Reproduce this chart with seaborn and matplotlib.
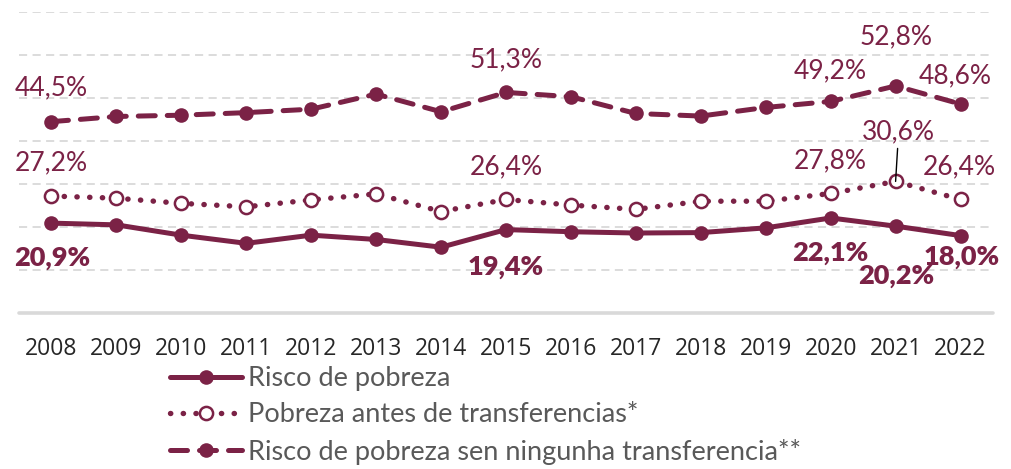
import matplotlib
matplotlib.use("Agg")
import matplotlib.pyplot as plt
import seaborn as sns
import pandas as pd
from matplotlib.lines import Line2D

# --- data -----------------------------------------------------------------
years = list(range(2008, 2023))

risco_pobreza = [20.9, 20.5, 18.1, 16.2, 18.1, 17.1, 15.3, 19.4, 18.9, 18.6,
                 18.7, 19.8, 22.1, 20.2, 18.0]
pobreza_antes = [27.2, 26.7, 25.5, 24.7, 26.3, 27.7, 23.6, 26.4, 25.1, 24.1,
                 26.0, 26.0, 27.8, 30.6, 26.4]
sen_transferencias = [44.5, 45.7, 46.0, 46.6, 47.4, 50.9, 46.8, 51.3, 50.3, 46.4,
                      45.8, 47.8, 49.2, 52.8, 48.6]

series_names = ["Risco de pobreza",
                "Pobreza antes de transferencias*",
                "Risco de pobreza sen ningunha transferencia**"]

# years whose value gets a text label, per series
labelled_risco = [2008, 2015, 2020, 2021, 2022]
labelled_antes = [2008, 2015, 2020, 2021, 2022]
labelled_sen = [2008, 2015, 2020, 2021, 2022]

# --- style ----------------------------------------------------------------
MAROON = "#7B2246"
GRID = "#d9d9d9"

sns.set_theme(style="white")
plt.rcParams["font.family"] = ["Lato", "DejaVu Sans"]

fig = plt.figure(figsize=(10.11, 4.69), dpi=100)
ax = fig.add_axes([19 / 1011, 1 - 313 / 469, 974 / 1011, 301 / 469])

df = pd.DataFrame({"ano": years,
                   "risco": risco_pobreza,
                   "antes": pobreza_antes,
                   "sen": sen_transferencias})

line_w = 3.6
DASHED = (0, (3.4, 2.4))
DOTTED = (0, (0.05, 2.3))

sns.lineplot(data=df, x="ano", y="sen", ax=ax, color=MAROON, lw=line_w,
             linestyle=DASHED, dash_capstyle="round",
             marker="o", markersize=10.5, markeredgewidth=0,
             markerfacecolor=MAROON, zorder=3)
sns.lineplot(data=df, x="ano", y="antes", ax=ax, color=MAROON, lw=3.9,
             linestyle=DOTTED, dash_capstyle="round",
             marker="o", markersize=9.5, markeredgewidth=1.8,
             markeredgecolor=MAROON, markerfacecolor="white", zorder=3)
sns.lineplot(data=df, x="ano", y="risco", ax=ax, color=MAROON, lw=line_w,
             marker="o", markersize=10.5, markeredgewidth=0,
             markerfacecolor=MAROON, zorder=3)

# axes cosmetics
ax.set_xlim(2007.5, 2022.5)
ax.set_ylim(0, 70)
ax.set_yticks(range(10, 80, 10))
ax.set_yticklabels([])
ax.tick_params(axis="y", length=0)
ax.grid(axis="y", color=GRID, lw=1.3, linestyle=(0, (4.5, 3)))
ax.grid(axis="x", visible=False)
ax.axhline(0, color=GRID, lw=2.6, zorder=1, clip_on=False)
for s in ax.spines.values():
    s.set_visible(False)
ax.set_xticks(years)
ax.set_xticklabels([str(y) for y in years], fontsize=16.5, color="#262626",
                   family=["Open Sans", "DejaVu Sans"])
ax.tick_params(axis="x", length=0, pad=17)
ax.set_xlabel("")
ax.set_ylabel("")


def fmt(v):
    return f"{v:.1f}".replace(".", ",") + "%"


# label offsets in pixels (dx, dy) relative to each point
off_sen = {2008: (0, 34), 2015: (0, 33), 2020: (0, 31), 2021: (0, 49), 2022: (-5, 28)}
off_antes = {2008: (0, 33), 2015: (0, 33), 2020: (0, 33), 2021: (3, 50), 2022: (-1, 33)}
off_risco = {2008: (1, -35), 2015: (0, -37), 2020: (0, -35), 2021: (1, -50), 2022: (1, -21)}

PX = 72 / 100

for yr in labelled_sen:
    v = sen_transferencias[years.index(yr)]
    dx, dy = off_sen[yr]
    ax.annotate(fmt(v), (yr, v), xytext=(dx * PX, dy * PX), textcoords="offset points",
                ha="center", va="center", fontsize=19, fontweight="normal",
                color=MAROON, annotation_clip=False)

for yr in labelled_antes:
    v = pobreza_antes[years.index(yr)]
    dx, dy = off_antes[yr]
    ax.annotate(fmt(v), (yr, v), xytext=(dx * PX, dy * PX), textcoords="offset points",
                ha="center", va="center", fontsize=19, fontweight="normal",
                color=MAROON, annotation_clip=False)

# leader line for the 2021 peak label
v21 = pobreza_antes[years.index(2021)]
ax.annotate("", (2021, v21), xytext=(2 * PX, 33 * PX), textcoords="offset points",
            arrowprops=dict(arrowstyle="-", color="black", lw=1.0,
                            shrinkA=0, shrinkB=0))

for yr in labelled_risco:
    v = risco_pobreza[years.index(yr)]
    dx, dy = off_risco[yr]
    ax.annotate(fmt(v), (yr, v), xytext=(dx * PX, dy * PX), textcoords="offset points",
                ha="center", va="center", fontsize=19.5, fontweight="heavy",
                color=MAROON, annotation_clip=False)

# legend
handles = [
    Line2D([], [], color=MAROON, lw=line_w, marker="o", markersize=10.5,
           markeredgewidth=0),
    Line2D([], [], color=MAROON, lw=3.9, linestyle=DOTTED,
           dash_capstyle="round", marker="o", markersize=9.5,
           markeredgewidth=1.8, markerfacecolor="white"),
    Line2D([], [], color=MAROON, lw=line_w, linestyle=DASHED,
           dash_capstyle="round", marker="o", markersize=10.5,
           markeredgewidth=0),
]
leg = fig.legend(handles, series_names, loc="upper left",
                 bbox_to_anchor=(170 / 1011, 1 - 366 / 469),
                 frameon=False, fontsize=19.5, handlelength=2.66,
                 handletextpad=0.22, labelspacing=0.42, numpoints=1,
                 borderaxespad=0, borderpad=0)
for t in leg.get_texts():
    t.set_color("#595959")

fig.savefig("out.png", dpi=100)
